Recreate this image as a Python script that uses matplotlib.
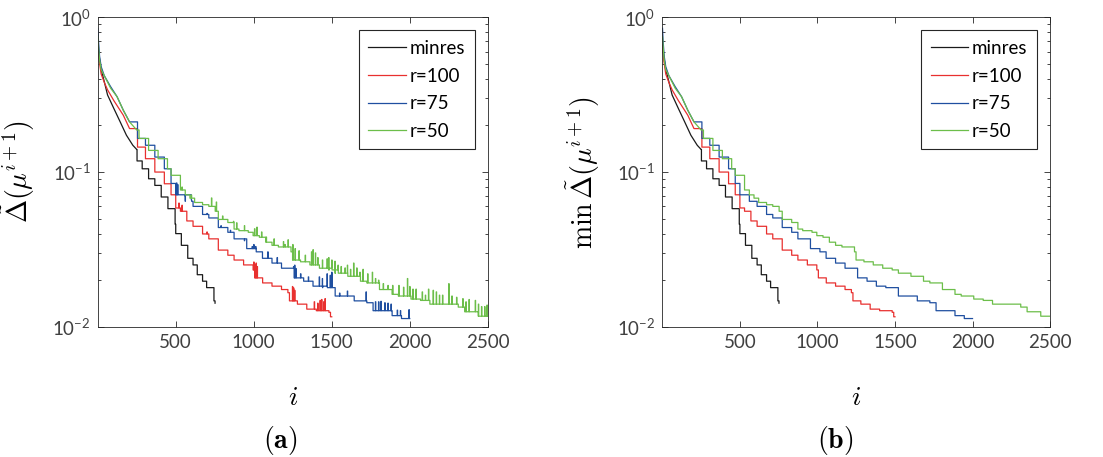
import numpy as np
import matplotlib
matplotlib.use("Agg")
import matplotlib.pyplot as plt
from matplotlib.ticker import FixedLocator, LogLocator, FuncFormatter, NullFormatter

plt.rcParams['font.family'] = ['Lato', 'DejaVu Sans']
plt.rcParams['mathtext.fontset'] = 'cm'

# =============================
# Data
# =============================
labels = ["minres", "r=100", "r=75", "r=50"]
colors = ["#1a1a1a", "#e8302f", "#1f4fa0", "#6cbe4a"]
xticks = [500, 1000, 1500, 2000, 2500]

# minres (same in both panels)
black_i = [1, 10, 22, 42, 63, 103, 144, 184, 225, 250, 252, 285, 326, 366, 407, 450, 496, 500, 536, 577,
           611, 638, 672, 698, 745, 752]
black_v = [0.66, 0.55, 0.46, 0.384, 0.315, 0.258, 0.211, 0.173, 0.149, 0.14, 0.118, 0.105, 0.0905, 0.082,
           0.069, 0.058, 0.046, 0.040, 0.0336, 0.0277, 0.0251, 0.0217, 0.0197, 0.0179, 0.0147, 0.0142]

# running minimum curves, panel (b); also the floor of the panel (a) curves
red_i = [1, 10, 22, 42, 63, 103, 164, 204, 255, 306, 366, 427, 470, 500, 530, 571, 611, 672, 712, 773,
         834, 874, 935, 996, 1006, 1057, 1117, 1178, 1219, 1229, 1280, 1340, 1401, 1482, 1492, 1500]
red_v = [0.66, 0.52, 0.43, 0.38, 0.34, 0.29, 0.233, 0.191, 0.145, 0.122, 0.1, 0.084, 0.0713, 0.0586, 0.0558,
         0.0483, 0.0446, 0.0398, 0.037, 0.0313, 0.029, 0.027, 0.0251, 0.0233, 0.0207, 0.0192, 0.0183, 0.0174,
         0.0166, 0.0147, 0.014, 0.013, 0.0127, 0.0124, 0.0116, 0.0116]

blue_i = [1, 5, 12, 22, 42, 83, 124, 164, 204, 255, 306, 366, 427, 470, 500, 561, 611, 672, 712, 773,
          834, 874, 955, 1016, 1056, 1117, 1178, 1259, 1320, 1380, 1441, 1522, 1644, 1725, 1765, 1887, 1947, 2000]
blue_v = [0.85, 0.7, 0.56, 0.48, 0.42, 0.356, 0.307, 0.251, 0.211, 0.165, 0.149, 0.125, 0.105, 0.0844, 0.0713,
          0.0647, 0.060, 0.0532, 0.0505, 0.0438, 0.0408, 0.037, 0.032, 0.0305, 0.0277, 0.0258, 0.0239, 0.0207,
          0.0197, 0.0183, 0.0179, 0.0158, 0.0147, 0.0143, 0.0127, 0.0118, 0.0113, 0.0113]

green_i = [1, 5, 12, 22, 42, 83, 124, 164, 204, 250, 265, 326, 387, 447, 470, 530, 561, 591, 621, 672,
           712, 753, 773, 834, 874, 905, 965, 996, 1036, 1077, 1117, 1158, 1239, 1249, 1300, 1360, 1421, 1482,
           1522, 1603, 1684, 1725, 1806, 1887, 1927, 2008, 2069, 2129, 2190, 2311, 2352, 2440, 2500]
green_v = [0.75, 0.64, 0.53, 0.46, 0.42, 0.348, 0.307, 0.251, 0.211, 0.187, 0.165, 0.138, 0.122, 0.105, 0.0953,
           0.0766, 0.0712, 0.0678, 0.0636, 0.0615, 0.060, 0.0558, 0.0494, 0.0472, 0.0428, 0.0418, 0.0408, 0.0388,
           0.0379, 0.0352, 0.0336, 0.0328, 0.0305, 0.027, 0.0263, 0.0251, 0.0239, 0.0233, 0.0222, 0.0212, 0.0197,
           0.0192, 0.0174, 0.0162, 0.0158, 0.0151, 0.0148, 0.014, 0.014, 0.0134, 0.0125, 0.0117, 0.0117]

# spikes of panel (a): iteration and peak value
red_spk_i = [520, 540, 700, 1000, 1008, 1015, 1022, 1248, 1255, 1262, 1388, 1410, 1425, 1435, 1448, 1457]
red_spk_v = [0.063, 0.061, 0.041, 0.0262, 0.025, 0.0258, 0.0245, 0.0182, 0.0178, 0.0172, 0.0145, 0.0142,
             0.0148, 0.015, 0.0145, 0.0152]

blue_spk_i = [505, 512, 560, 600, 650, 700, 790, 850, 940, 990, 1000, 1012, 1090, 1150, 1255, 1262, 1270,
              1300, 1350, 1420, 1440, 1470, 1490, 1500, 1550, 1600, 1720, 1780, 1800, 1815, 1840, 1860, 1880,
              1920, 1940, 1995]
blue_spk_v = [0.085, 0.083, 0.07, 0.066, 0.06, 0.054, 0.045, 0.042, 0.036, 0.033, 0.034, 0.033, 0.0305, 0.028,
              0.0245, 0.025, 0.0238, 0.022, 0.021, 0.021, 0.0205, 0.022, 0.0215, 0.0225, 0.0165, 0.017, 0.0168,
              0.0145, 0.0145, 0.0146, 0.0143, 0.0142, 0.014, 0.0128, 0.0127, 0.0129]

green_spk_i = [540, 600, 729, 760, 800, 870, 890, 940, 1005, 1020, 1050, 1080, 1130, 1190, 1200, 1220, 1250,
               1265, 1290, 1330, 1370, 1380, 1395, 1410, 1440, 1470, 1480, 1500, 1520, 1540, 1560, 1585, 1600,
               1620, 1640, 1660, 1680, 1700, 1730, 1760, 1780, 1800, 1830, 1860, 1890, 1930, 1960, 1985, 2000,
               2020, 2040, 2080, 2100, 2120, 2150, 2170, 2190, 2210, 2250, 2270, 2300, 2340, 2360, 2380, 2420,
               2440, 2460, 2480, 2495]
green_spk_v = [0.08, 0.071, 0.068, 0.064, 0.052, 0.048, 0.047, 0.045, 0.043, 0.044, 0.041, 0.038, 0.037,
               0.0355, 0.034, 0.0365, 0.034, 0.032, 0.031, 0.029, 0.0305, 0.0315, 0.030, 0.028, 0.027, 0.0275,
               0.028, 0.027, 0.0265, 0.025, 0.0245, 0.024, 0.025, 0.0235, 0.0258, 0.024, 0.0225, 0.0235, 0.022,
               0.0225, 0.0205, 0.020, 0.019, 0.0185, 0.0185, 0.0185, 0.018, 0.0205, 0.0182, 0.0175, 0.0175,
               0.0168, 0.016, 0.0175, 0.0172, 0.0168, 0.016, 0.016, 0.019, 0.0158, 0.0155, 0.0152, 0.0145,
               0.015, 0.0148, 0.014, 0.0135, 0.0135, 0.0138]

SMOOTH_UNTIL = 250  # fine steps at the start are drawn as straight segments


def with_spikes(xs, ys, sx, sy):
    # spike = jump up to the read peak and straight back to the step value there
    xs = np.asarray(xs, float)
    ys = np.asarray(ys, float)
    px, py = list(xs), list(ys)
    for s, top in zip(sx, sy):
        base = ys[np.searchsorted(xs, s, side="right") - 1]
        px += [s, s + 2]
        py += [top, base]
    order = np.argsort(px, kind="stable")
    return np.array(px)[order], np.array(py)[order]


def staircase(xs, ys):
    # vertices of the drawn path: straight early on, stepped afterwards
    vx, vy = [xs[0]], [ys[0]]
    for k in range(1, len(xs)):
        if xs[k] > SMOOTH_UNTIL:
            vx.append(xs[k])
            vy.append(ys[k - 1])
        vx.append(xs[k])
        vy.append(ys[k])
    return vx, vy


def style_axes(ax, ylabel, ylabel_x):
    ax.set_yscale("log")
    ax.set_xlim(0, 2500)
    ax.set_ylim(1e-2, 1)
    ax.xaxis.set_major_locator(FixedLocator(xticks))
    ax.yaxis.set_major_locator(LogLocator(base=10, numticks=5))
    ax.yaxis.set_minor_locator(LogLocator(base=10, subs=np.arange(2, 10), numticks=20))
    ax.yaxis.set_minor_formatter(NullFormatter())
    ax.yaxis.set_major_formatter(FuncFormatter(lambda v, p: r"$\mathregular{10^{%d}}$" % round(np.log10(v))))
    ax.tick_params(which="both", direction="in", top=True, right=True, colors="#262626",
                   labelcolor="#404040", labelsize=13.5, width=0.6)
    ax.tick_params(which="major", length=4.5, pad=5)
    ax.tick_params(which="minor", length=2.5)
    for sp in ax.spines.values():
        sp.set_color("#262626")
        sp.set_linewidth(0.6)
    ax.set_xlabel("$i$", fontsize=20)
    ax.xaxis.set_label_coords(0.5, -0.185)
    ax.set_ylabel(ylabel, fontsize=20)
    ax.yaxis.set_label_coords(ylabel_x, 0.5)
    leg = ax.legend(loc="upper right", fontsize=13.5, frameon=True, fancybox=False, framealpha=1,
                    edgecolor="#262626", handlelength=2.0, handletextpad=0.2, labelspacing=0.57,
                    borderpad=0.5, borderaxespad=0.7)
    leg.get_frame().set_linewidth(0.8)


fig = plt.figure(figsize=(11.03, 4.57), dpi=100)
ax_a = fig.add_axes([0.0886, 0.285, 0.3536, 0.677])
ax_b = fig.add_axes([0.6005, 0.285, 0.3515, 0.677])

# panel (a): raw values with spikes
curves_a = [
    (np.array(black_i), np.array(black_v)),
    with_spikes(red_i, red_v, red_spk_i, red_spk_v),
    with_spikes(blue_i, blue_v, blue_spk_i, blue_spk_v),
    with_spikes(green_i, green_v, green_spk_i, green_spk_v),
]
for (x, y), lab, c in zip(curves_a, labels, colors):
    ax_a.plot(*staircase(list(x), list(y)), color=c, linewidth=0.9, label=lab)

# panel (b): running minimum
curves_b = [(black_i, black_v), (red_i, red_v), (blue_i, blue_v), (green_i, green_v)]
for (x, y), lab, c in zip(curves_b, labels, colors):
    ax_b.plot(*staircase(x, y), color=c, linewidth=0.9, label=lab)

style_axes(ax_a, r"$\tilde{\Delta}(\mu^{i+1})$", -0.155)
style_axes(ax_b, r"$\min\,\tilde{\Delta}(\mu^{i+1})$", -0.155)

fig.text(0.254, 0.037, r"$\mathbf{(a)}$", fontsize=20, ha="center", va="center")
fig.text(0.757, 0.037, r"$\mathbf{(b)}$", fontsize=20, ha="center", va="center")

fig.savefig("out.png", dpi=100)
